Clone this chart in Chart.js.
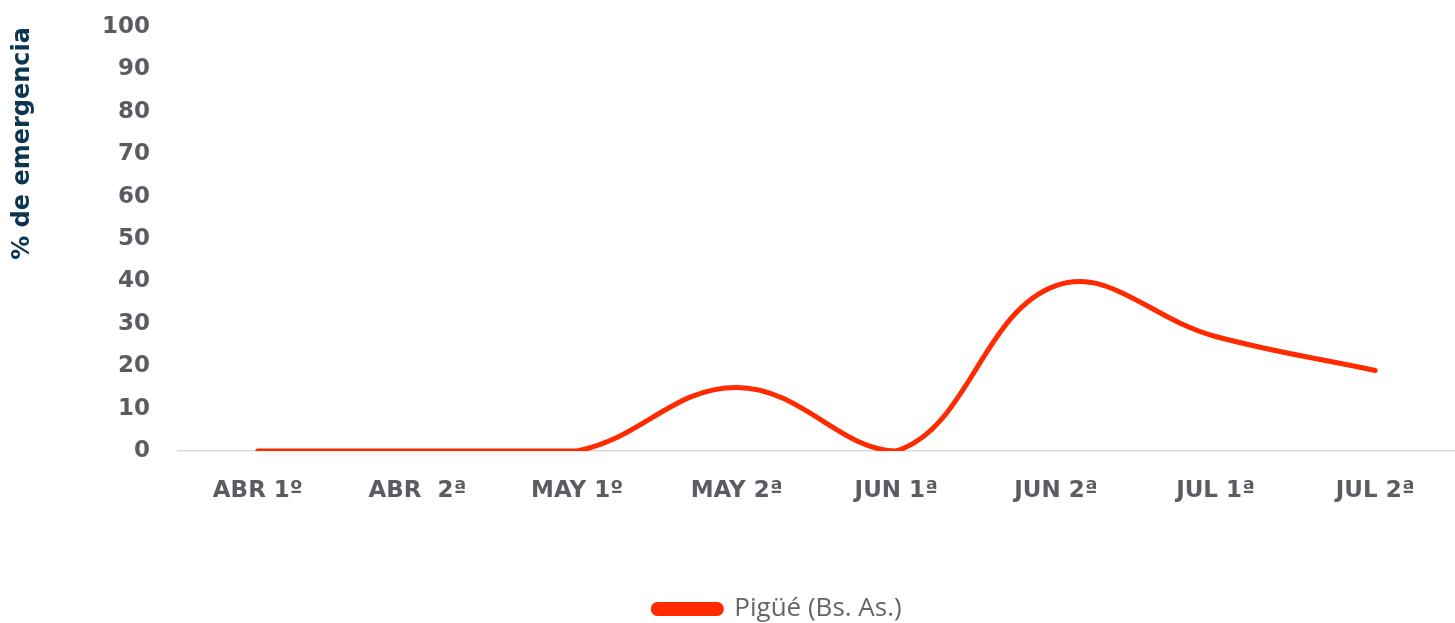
<!DOCTYPE html>
<html>
<head>
<meta charset="utf-8">
<script src="https://cdn.jsdelivr.net/npm/chart.js@4"></script>
<style>
  html, body { margin: 0; padding: 0; background: #fff; }
  #wrap { width: 1455px; height: 623px; }
</style>
</head>
<body>
<div id="wrap"><canvas id="lineChart"></canvas></div>
<script>
// datos
const categorias = ["ABR 1º", "ABR  2ª", "MAY 1º", "MAY 2ª", "JUN 1ª", "JUN 2ª", "JUL 1ª", "JUL 2ª"];
const emergencia = [0, 0, 0, 15, 0, 39, 27, 19];
const serieNombre = "Pigüé (Bs. As.)";
const yTicks = [0, 10, 20, 30, 40, 50, 60, 70, 80, 90, 100];

const rojo = "#ff2a00";
const gris = "#5b5b63";

// mover la leyenda (abajo y un poco a la derecha, como en el original)
const moverLeyenda = {
  id: "moverLeyenda",
  afterLayout(chart) {
    if (!chart.legend) return;
    chart.legend.top += 9;
    chart.legend.left += 50;
    chart.legend.right += 50;
  },
};

const ctx = document.getElementById("lineChart").getContext("2d");
const lineChart = new Chart(ctx, {
  type: "line",
  plugins: [moverLeyenda],
  data: {
    labels: categorias,
    datasets: [
      {
        label: serieNombre,
        data: emergencia,
        borderColor: rojo,
        backgroundColor: rojo,
        borderWidth: 5,
        tension: 0.4,
        pointRadius: 0,
        borderCapStyle: "round",
      },
    ],
  },
  options: {
    responsive: true,
    maintainAspectRatio: false,
    animation: false,
    layout: { padding: { top: 27, right: 0, left: 0, bottom: 0 } },
    scales: {
      x: {
        offset: true,
        grid: { display: false, drawTicks: false },
        border: { display: true, color: "#d9d9d9", width: 1.5 },
        ticks: {
          color: gris,
          font: { family: "DejaVu Sans", size: 23, weight: "bold" },
          padding: 26,
          maxRotation: 0,
        },
        afterFit: (scale) => { scale.height = 136; },
      },
      y: {
        min: 0,
        max: 100,
        grid: { display: false, drawTicks: false },
        border: { display: false },
        afterBuildTicks: (scale) => { scale.ticks = yTicks.map(v => ({ value: v })); },
        ticks: {
          color: gris,
          font: { family: "DejaVu Sans", size: 23, weight: "bold" },
          padding: 28,
        },
        title: {
          display: true,
          text: "% de emergencia",
          align: "end",
          color: "#0b3550",
          font: { family: "DejaVu Sans", size: 24, weight: "bold" },
          padding: { top: 8, bottom: 0 },
        },
        afterFit: (scale) => {
          scale.width = 178;
          scale.paddingTop = 0;
          scale.paddingBottom = 0;
        },
      },
    },
    plugins: {
      legend: {
        position: "bottom",
        labels: {
          color: "#666666",
          font: { family: "Open Sans", size: 26 },
          boxWidth: 68,
          boxHeight: 9,
          useBorderRadius: true,
          borderRadius: 4,
          padding: 0,
        },
      },
      tooltip: { enabled: false },
    },
  },
});
</script>
</body>
</html>
